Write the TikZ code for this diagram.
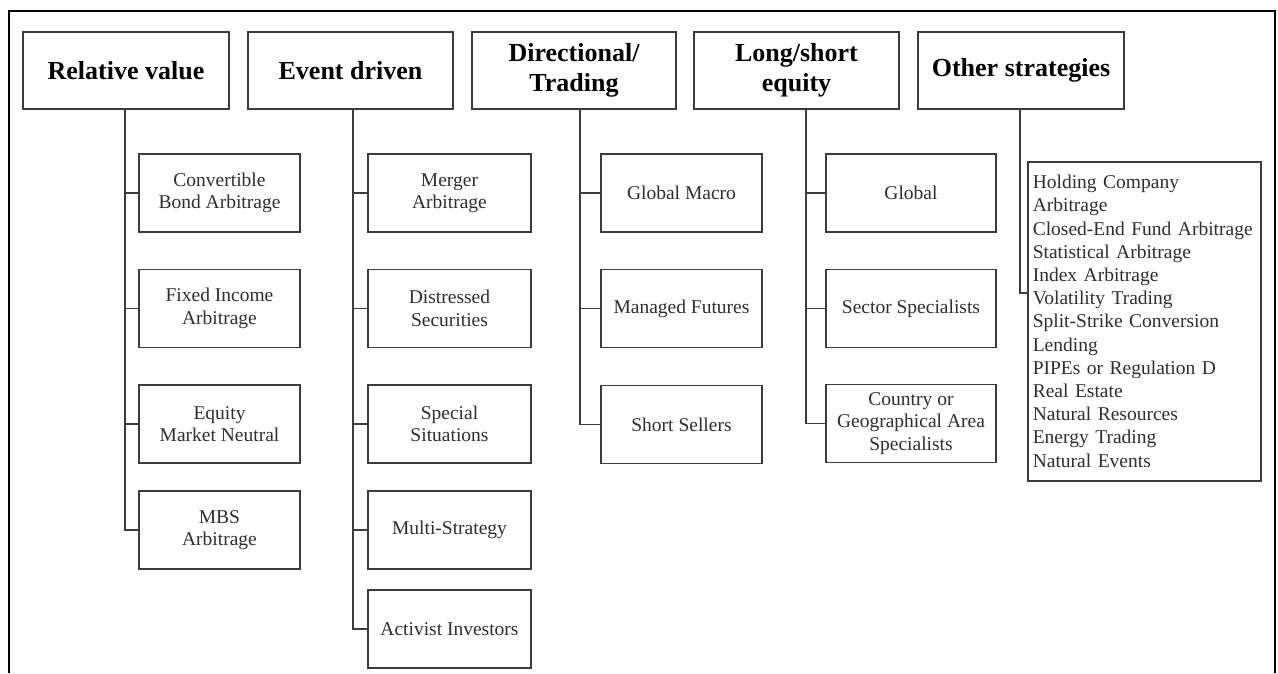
\documentclass[tikz,border=0pt]{standalone}
\usepackage{fontspec}
\setmainfont{Liberation Serif}
\definecolor{linegray}{HTML}{3C3C3C}
\definecolor{textgray}{HTML}{2E2E2E}
\begin{document}
\begin{tikzpicture}[x=1pt,y=-1pt,
  head/.style={draw=linegray, line width=1.6pt, minimum height=77pt, inner sep=0pt,
    font=\fontsize{26}{30}\selectfont\bfseries, align=center, text=black},
  leaf/.style={draw=linegray, line width=1.6pt, minimum height=78pt, inner sep=0pt,
    font=\fontsize{19.5}{22.5}\selectfont, align=center, text=textgray},
  link/.style={draw=linegray, line width=1.6pt}]
  \useasboundingbox (0,0) rectangle (1278,673);
  % open frame round the chart
  \draw[line width=2.2pt] (9,673) -- (9,11) -- (1275,11) -- (1275,673);

  % strategy families
  \node[head, minimum width=206pt] (rv) at (126,70.5) {Relative value};
  \node[head, minimum width=205pt] (ed) at (350.5,70.5) {Event driven};
  \node[head, minimum width=204pt] (dt) at (574,70.5) {Directional/\\Trading};
  \node[head, minimum width=205pt] (ls) at (796.5,70.5) {Long/short\\equity};
  \node[head, minimum width=206pt] (os) at (1021,70.5) {Other strategies};

  % relative value
  \node[leaf, minimum width=161pt] (rv1) at (219.5,193) {Convertible\\Bond Arbitrage};
  \node[leaf, minimum width=161pt] (rv2) at (219.5,308.5) {Fixed Income\\Arbitrage};
  \node[leaf, minimum width=161pt] (rv3) at (219.5,424) {Equity\\Market Neutral};
  \node[leaf, minimum width=161pt] (rv4) at (219.5,530) {MBS\\Arbitrage};

  % event driven
  \node[leaf, minimum width=163pt] (ed1) at (449.5,193) {Merger\\Arbitrage};
  \node[leaf, minimum width=163pt] (ed2) at (449.5,308.5) {Distressed\\Securities};
  \node[leaf, minimum width=163pt] (ed3) at (449.5,424) {Special\\Situations};
  \node[leaf, minimum width=163pt] (ed4) at (449.5,530) {Multi-Strategy};
  \node[leaf, minimum width=163pt] (ed5) at (449.5,629) {Activist Investors};

  % directional / trading
  \node[leaf, minimum width=161pt] (dt1) at (681.5,193) {Global Macro};
  \node[leaf, minimum width=161pt] (dt2) at (681.5,308.5) {Managed Futures};
  \node[leaf, minimum width=161pt] (dt3) at (681.5,424.5) {Short Sellers};

  % long/short equity
  \node[leaf, minimum width=170pt] (ls1) at (911,193) {Global};
  \node[leaf, minimum width=170pt] (ls2) at (911,308.5) {Sector Specialists};
  \node[leaf, minimum width=170pt] (ls3) at (911,423.5) {Country or\\Geographical Area\\Specialists};

  % other strategies
  \node[draw=linegray, line width=1.6pt, anchor=north west, minimum height=319pt,
    text width=223pt, inner xsep=5pt, inner ysep=0pt, align=left, text=textgray,
    font=\fontsize{19.5}{23.2}\selectfont] (os1) at (1027,161)
    {Holding Company\\Arbitrage\\Closed-End Fund Arbitrage\\Statistical Arbitrage\\Index Arbitrage\\Volatility Trading\\Split-Strike Conversion\\Lending\\PIPEs or Regulation D\\Real Estate\\Natural Resources\\Energy Trading\\Natural Events};

  % connectors
  \foreach \c in {rv1,rv2,rv3,rv4} \draw[link] (rv.south -| 125,0) |- (\c.west);
  \foreach \c in {ed1,ed2,ed3,ed4,ed5} \draw[link] (ed.south -| 353,0) |- (\c.west);
  \foreach \c in {dt1,dt2,dt3} \draw[link] (dt.south -| 580,0) |- (\c.west);
  \foreach \c in {ls1,ls2,ls3} \draw[link] (ls.south -| 806,0) |- (\c.west);
  \draw[link] (os.south -| 1020,0) |- (os1.west |- 0,293);
\end{tikzpicture}
\end{document}
